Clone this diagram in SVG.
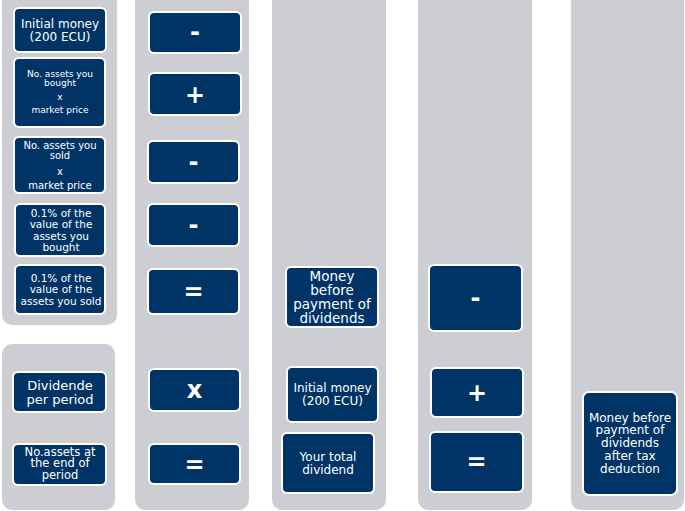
<svg xmlns="http://www.w3.org/2000/svg" width="685" height="511" viewBox="0 0 685 511">
<style>
.panel{fill:#CDCED3;}
.box{fill:#003466;stroke:#FFFFFF;stroke-width:2;}
text{font-family:"DejaVu Sans",Verdana,sans-serif;fill:#FFFFFF;text-anchor:middle;}
.op{font-weight:bold;font-size:24px;}
</style>
<rect width="685" height="511" fill="#FFFFFF"/>
<g id="panels">
<rect class="panel" x="2" y="-10" width="115" height="335" rx="10"/>
<rect class="panel" x="2" y="344" width="113" height="166" rx="10"/>
<rect class="panel" x="135" y="-10" width="114" height="520" rx="10"/>
<rect class="panel" x="272" y="-10" width="114" height="520" rx="10"/>
<rect class="panel" x="418" y="-10" width="114" height="520" rx="10"/>
<rect class="panel" x="571" y="-10" width="113" height="520" rx="10"/>
</g>
<g id="connectors"/>
<g id="n-initial">
<rect class="box" x="14" y="8" width="92" height="44" rx="5"/>
<text font-size="12" x="60" y="28">Initial money</text>
<text font-size="12" x="60" y="41">(200 ECU)</text>
</g>
<g id="n-bought">
<rect class="box" x="14" y="58" width="91" height="69" rx="5"/>
<text font-size="9" x="60" y="77">No. assets you</text>
<text font-size="9" x="60" y="86">bought</text>
<text font-size="9" x="60" y="100">x</text>
<text font-size="9" x="60" y="113">market price</text>
</g>
<g id="n-sold">
<rect class="box" x="14" y="137" width="91" height="56" rx="5"/>
<text font-size="10" x="60" y="149">No. assets you</text>
<text font-size="10" x="60" y="159">sold</text>
<text font-size="10" x="60" y="175">x</text>
<text font-size="10" x="60" y="189">market price</text>
</g>
<g id="n-feebought">
<rect class="box" x="15" y="204" width="90" height="52" rx="5"/>
<text font-size="10.5" x="61" y="217">0.1% of the</text>
<text font-size="10.5" x="61" y="228">value of the</text>
<text font-size="10.5" x="61" y="240">assets you</text>
<text font-size="10.5" x="61" y="251">bought</text>
</g>
<g id="n-feesold">
<rect class="box" x="15" y="265" width="90" height="49" rx="5"/>
<text font-size="10.5" x="61" y="282">0.1% of the</text>
<text font-size="10.5" x="61" y="293">value of the</text>
<text font-size="10.5" x="61" y="305">assets you sold</text>
</g>
<g id="n-dividende">
<rect class="box" x="13" y="372" width="93" height="40" rx="5"/>
<text font-size="13" x="60" y="390">Dividende</text>
<text font-size="13" x="60" y="404">per period</text>
</g>
<g id="n-noassets">
<rect class="box" x="13" y="444" width="93" height="41" rx="5"/>
<text font-size="11.5" x="60" y="456">No.assets at</text>
<text font-size="11.5" x="60" y="467">the end of</text>
<text font-size="11.5" x="60" y="478.5">period</text>
</g>
<g id="op-minus1">
<rect class="box" x="149" y="12" width="92" height="41" rx="5"/>
<text class="op" x="195" y="40">-</text>
</g>
<g id="op-plus1">
<rect class="box" x="149" y="73" width="92" height="42" rx="5"/>
<text class="op" x="195" y="103">+</text>
</g>
<g id="op-minus2">
<rect class="box" x="148" y="141" width="91" height="42" rx="5"/>
<text class="op" x="193.5" y="170">-</text>
</g>
<g id="op-minus3">
<rect class="box" x="148" y="204" width="91" height="42" rx="5"/>
<text class="op" x="193.5" y="233">-</text>
</g>
<g id="op-equal1">
<rect class="box" x="148" y="269" width="91" height="45" rx="5"/>
<text class="op" x="193.5" y="300">=</text>
</g>
<g id="op-times">
<rect class="box" x="149" y="369" width="91" height="42" rx="5"/>
<text class="op" x="194.5" y="398">x</text>
</g>
<g id="op-equal2">
<rect class="box" x="149" y="444" width="91" height="40" rx="5"/>
<text class="op" x="194.5" y="473">=</text>
</g>
<g id="n-moneybefore">
<rect class="box" x="286" y="267" width="92" height="60" rx="5"/>
<text font-size="13.5" x="332" y="281">Money</text>
<text font-size="13.5" x="332" y="295">before</text>
<text font-size="13.5" x="332" y="309">payment of</text>
<text font-size="13.5" x="332" y="323">dividends</text>
</g>
<g id="n-initial2">
<rect class="box" x="287" y="367" width="91" height="55" rx="5"/>
<text font-size="12" x="332.5" y="392">Initial money</text>
<text font-size="12" x="332.5" y="405">(200 ECU)</text>
</g>
<g id="n-totaldividend">
<rect class="box" x="282" y="433" width="92" height="60" rx="5"/>
<text font-size="12" x="328" y="461">Your total</text>
<text font-size="12" x="328" y="474">dividend</text>
</g>
<g id="op-minus4">
<rect class="box" x="429" y="265" width="93" height="66" rx="5"/>
<text class="op" x="475.5" y="306">-</text>
</g>
<g id="op-plus2">
<rect class="box" x="431" y="368" width="92" height="49" rx="5"/>
<text class="op" x="477" y="401">+</text>
</g>
<g id="op-equal3">
<rect class="box" x="430" y="432" width="93" height="60" rx="5"/>
<text class="op" x="476.5" y="470">=</text>
</g>
<g id="n-final">
<rect class="box" x="583" y="392" width="94" height="103" rx="6"/>
<text font-size="12" x="630" y="421.5">Money before</text>
<text font-size="12" x="630" y="434">payment of</text>
<text font-size="12" x="630" y="447">dividends</text>
<text font-size="12" x="630" y="460">after tax</text>
<text font-size="12" x="630" y="472.5">deduction</text>
</g>
</svg>
